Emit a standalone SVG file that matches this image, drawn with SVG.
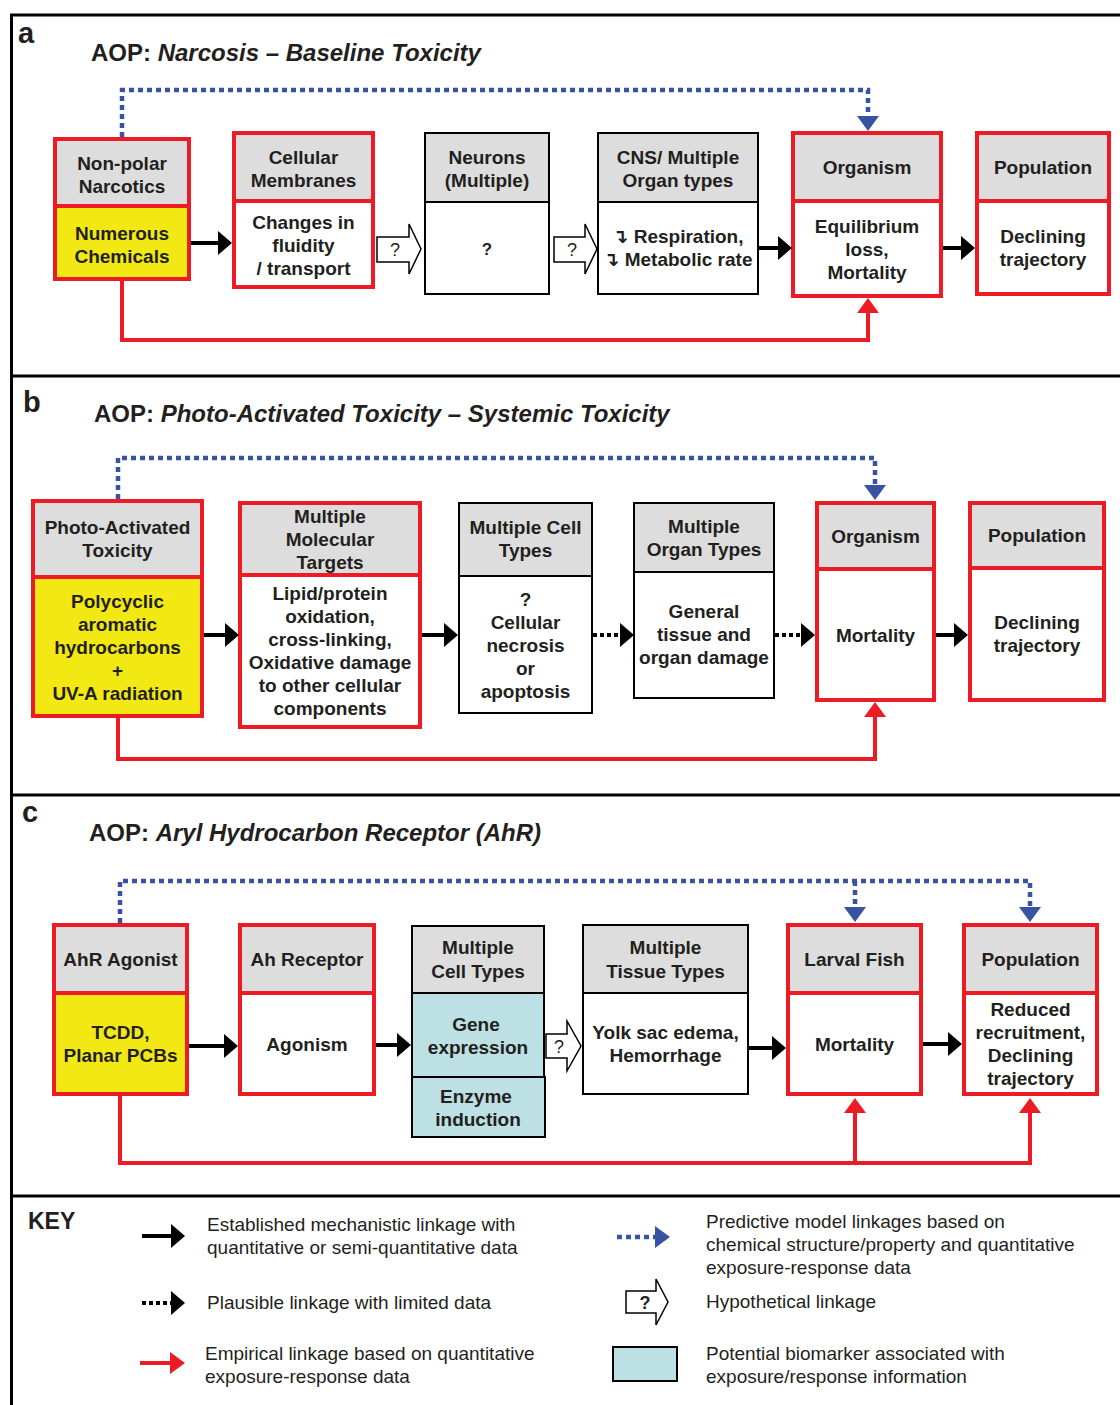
<svg xmlns="http://www.w3.org/2000/svg" width="1120" height="1405" viewBox="0 0 1120 1405">
<defs>
<style>
text{font-family:"Liberation Sans",Arial,"DejaVu Sans",sans-serif;fill:#231f20}
.t{font-size:19px;font-weight:bold;text-anchor:middle}
.ttl{font-size:24px;font-weight:bold}
.lbl{font-size:29px;font-weight:bold}
.key{font-size:19px}
.keyh{font-size:23px;font-weight:bold}
.hdr{fill:#dddddd}
.yel{fill:#f2e914}
.wht{fill:#ffffff}
.teal{fill:#bce0e3}
.rb{fill:none;stroke:#ed1c24;stroke-width:4}
.bb{fill:none;stroke:#000;stroke-width:2}
.blk{stroke:#000;stroke-width:4;fill:none}
.dot{stroke:#000;stroke-width:4;fill:none;stroke-dasharray:4 3}
.blu{stroke:#3953a4;stroke-width:4.5;fill:none;stroke-dasharray:5 4}
.red{stroke:#ed1c24;stroke-width:4;fill:none}
.hol{fill:#fff;stroke:#000;stroke-width:1.5}
.q{font-size:18px;text-anchor:middle}
.frame{stroke:#000;stroke-width:3;fill:none}
</style>
<marker id="ah" markerUnits="userSpaceOnUse" markerWidth="15" markerHeight="24" refX="0" refY="12" orient="auto"><path d="M0,0 L14,12 L0,24 Z" fill="#000"/></marker>
<marker id="bh" markerUnits="userSpaceOnUse" markerWidth="16" markerHeight="22" refX="0" refY="11" orient="auto"><path d="M0,0 L15,11 L0,22 Z" fill="#3953a4"/></marker>
<marker id="rh" markerUnits="userSpaceOnUse" markerWidth="16" markerHeight="22" refX="0" refY="11" orient="auto"><path d="M0,0 L15,11 L0,22 Z" fill="#ed1c24"/></marker>
</defs>

<g id="frame">
<path class="frame" d="M10,15 H1120 M11.5,14 V1405 M10,376 H1120 M10,795 H1120 M10,1196 H1120"/>
</g>

<g id="labels">
<text class="lbl" x="18" y="43">a</text>
<text class="ttl" x="91" y="61">AOP: <tspan font-style="italic">Narcosis – Baseline Toxicity</tspan></text>
<text class="lbl" x="23" y="412">b</text>
<text class="ttl" x="94" y="422">AOP: <tspan font-style="italic">Photo-Activated Toxicity – Systemic Toxicity</tspan></text>
<text class="lbl" x="22" y="822">c</text>
<text class="ttl" x="89" y="841">AOP: <tspan font-style="italic">Aryl Hydrocarbon Receptor (AhR)</tspan></text>
</g>

<!-- Panel a nodes -->
<g id="a1">
<rect class="hdr" x="55" y="139" width="134" height="67"/>
<rect class="yel" x="55" y="206" width="134" height="73"/>
<rect class="rb" x="55" y="139" width="134" height="140"/>
<line class="rb" x1="55" y1="206" x2="189" y2="206"/>
<text class="t" x="122" y="170">Non-polar</text>
<text class="t" x="122" y="193">Narcotics</text>
<text class="t" x="122" y="240">Numerous</text>
<text class="t" x="122" y="263">Chemicals</text>
</g>
<g id="a2">
<rect class="hdr" x="234" y="133" width="139" height="68"/>
<rect class="wht" x="234" y="201" width="139" height="86"/>
<rect class="rb" x="234" y="133" width="139" height="154"/>
<line class="rb" x1="234" y1="201" x2="373" y2="201"/>
<text class="t" x="303.5" y="164">Cellular</text>
<text class="t" x="303.5" y="187">Membranes</text>
<text class="t" x="303.5" y="229">Changes in</text>
<text class="t" x="303.5" y="252">fluidity</text>
<text class="t" x="303.5" y="275">/ transport</text>
</g>
<g id="a3">
<rect class="hdr" x="425" y="133" width="124" height="69"/>
<rect class="wht" x="425" y="202" width="124" height="92"/>
<rect class="bb" x="425" y="133" width="124" height="161"/>
<line class="bb" x1="425" y1="202" x2="549" y2="202"/>
<text class="t" x="487" y="164">Neurons</text>
<text class="t" x="487" y="187">(Multiple)</text>
<text class="t" x="487" y="255" style="font-size:17px">?</text>
</g>
<g id="a4">
<rect class="hdr" x="598" y="133" width="160" height="69"/>
<rect class="wht" x="598" y="202" width="160" height="92"/>
<rect class="bb" x="598" y="133" width="160" height="161"/>
<line class="bb" x1="598" y1="202" x2="758" y2="202"/>
<text class="t" x="678" y="164">CNS/ Multiple</text>
<text class="t" x="678" y="187">Organ types</text>
<text class="t" x="678" y="243">↴ Respiration,</text>
<text class="t" x="678" y="266">↴ Metabolic rate</text>
</g>
<g id="a5">
<rect class="hdr" x="793" y="133" width="148" height="68"/>
<rect class="wht" x="793" y="201" width="148" height="95"/>
<rect class="rb" x="793" y="133" width="148" height="163"/>
<line class="rb" x1="793" y1="201" x2="941" y2="201"/>
<text class="t" x="867" y="174">Organism</text>
<text class="t" x="867" y="233">Equilibrium</text>
<text class="t" x="867" y="256">loss,</text>
<text class="t" x="867" y="279">Mortality</text>
</g>
<g id="a6">
<rect class="hdr" x="977" y="133" width="132" height="68"/>
<rect class="wht" x="977" y="201" width="132" height="93"/>
<rect class="rb" x="977" y="133" width="132" height="161"/>
<line class="rb" x1="977" y1="201" x2="1109" y2="201"/>
<text class="t" x="1043" y="174">Population</text>
<text class="t" x="1043" y="243">Declining</text>
<text class="t" x="1043" y="266">trajectory</text>
</g>

<!-- Panel b nodes -->
<g id="b1">
<rect class="hdr" x="33" y="501" width="169" height="76"/>
<rect class="yel" x="33" y="577" width="169" height="139"/>
<rect class="rb" x="33" y="501" width="169" height="215"/>
<line class="rb" x1="33" y1="577" x2="202" y2="577"/>
<text class="t" x="117.5" y="534">Photo-Activated</text>
<text class="t" x="117.5" y="557">Toxicity</text>
<text class="t" x="117.5" y="608">Polycyclic</text>
<text class="t" x="117.5" y="631">aromatic</text>
<text class="t" x="117.5" y="654">hydrocarbons</text>
<text class="t" x="117.5" y="677">+</text>
<text class="t" x="117.5" y="700">UV-A radiation</text>
</g>
<g id="b2">
<rect class="hdr" x="240" y="503" width="180" height="72"/>
<rect class="wht" x="240" y="575" width="180" height="152"/>
<rect class="rb" x="240" y="503" width="180" height="224"/>
<line class="rb" x1="240" y1="575" x2="420" y2="575"/>
<text class="t" x="330" y="523">Multiple</text>
<text class="t" x="330" y="546">Molecular</text>
<text class="t" x="330" y="569">Targets</text>
<text class="t" x="330" y="600">Lipid/protein</text>
<text class="t" x="330" y="623">oxidation,</text>
<text class="t" x="330" y="646">cross-linking,</text>
<text class="t" x="330" y="669">Oxidative damage</text>
<text class="t" x="330" y="692">to other cellular</text>
<text class="t" x="330" y="715">components</text>
</g>
<g id="b3">
<rect class="hdr" x="459" y="503" width="133" height="73"/>
<rect class="wht" x="459" y="576" width="133" height="137"/>
<rect class="bb" x="459" y="503" width="133" height="210"/>
<line class="bb" x1="459" y1="576" x2="592" y2="576"/>
<text class="t" x="525.5" y="534">Multiple Cell</text>
<text class="t" x="525.5" y="557">Types</text>
<text class="t" x="525.5" y="606">?</text>
<text class="t" x="525.5" y="629">Cellular</text>
<text class="t" x="525.5" y="652">necrosis</text>
<text class="t" x="525.5" y="675">or</text>
<text class="t" x="525.5" y="698">apoptosis</text>
</g>
<g id="b4">
<rect class="hdr" x="634" y="503" width="140" height="69"/>
<rect class="wht" x="634" y="572" width="140" height="126"/>
<rect class="bb" x="634" y="503" width="140" height="195"/>
<line class="bb" x1="634" y1="572" x2="774" y2="572"/>
<text class="t" x="704" y="533">Multiple</text>
<text class="t" x="704" y="556">Organ Types</text>
<text class="t" x="704" y="618">General</text>
<text class="t" x="704" y="641">tissue and</text>
<text class="t" x="704" y="664">organ damage</text>
</g>
<g id="b5">
<rect class="hdr" x="817" y="503" width="117" height="66"/>
<rect class="wht" x="817" y="569" width="117" height="131"/>
<rect class="rb" x="817" y="503" width="117" height="197"/>
<line class="rb" x1="817" y1="569" x2="934" y2="569"/>
<text class="t" x="875.5" y="543">Organism</text>
<text class="t" x="875.5" y="642">Mortality</text>
</g>
<g id="b6">
<rect class="hdr" x="970" y="503" width="134" height="65"/>
<rect class="wht" x="970" y="568" width="134" height="132"/>
<rect class="rb" x="970" y="503" width="134" height="197"/>
<line class="rb" x1="970" y1="568" x2="1104" y2="568"/>
<text class="t" x="1037" y="542">Population</text>
<text class="t" x="1037" y="629">Declining</text>
<text class="t" x="1037" y="652">trajectory</text>
</g>

<!-- Panel c nodes -->
<g id="c1">
<rect class="hdr" x="54" y="925" width="133" height="68"/>
<rect class="yel" x="54" y="993" width="133" height="101"/>
<rect class="rb" x="54" y="925" width="133" height="169"/>
<line class="rb" x1="54" y1="993" x2="187" y2="993"/>
<text class="t" x="120.5" y="966">AhR Agonist</text>
<text class="t" x="120.5" y="1039">TCDD,</text>
<text class="t" x="120.5" y="1062">Planar PCBs</text>
</g>
<g id="c2">
<rect class="hdr" x="240" y="925" width="134" height="68"/>
<rect class="wht" x="240" y="993" width="134" height="101"/>
<rect class="rb" x="240" y="925" width="134" height="169"/>
<line class="rb" x1="240" y1="993" x2="374" y2="993"/>
<text class="t" x="307" y="966">Ah Receptor</text>
<text class="t" x="307" y="1051">Agonism</text>
</g>
<g id="c3">
<rect class="hdr" x="412" y="926" width="132" height="67"/>
<rect class="bb" x="412" y="926" width="132" height="67"/>
<rect class="teal" x="412" y="993" width="132" height="84"/>
<rect class="bb" x="412" y="993" width="132" height="84"/>
<rect class="teal" x="412" y="1077" width="133" height="60"/>
<rect class="bb" x="412" y="1077" width="133" height="60"/>
<text class="t" x="478" y="954">Multiple</text>
<text class="t" x="478" y="978">Cell Types</text>
<text class="t" x="476" y="1031">Gene</text>
<text class="t" x="478" y="1054">expression</text>
<text class="t" x="476" y="1103">Enzyme</text>
<text class="t" x="478" y="1126">induction</text>
</g>
<g id="c4">
<rect class="hdr" x="583" y="925" width="165" height="68"/>
<rect class="wht" x="583" y="993" width="165" height="101"/>
<rect class="bb" x="583" y="925" width="165" height="169"/>
<line class="bb" x1="583" y1="993" x2="748" y2="993"/>
<text class="t" x="665.5" y="954">Multiple</text>
<text class="t" x="665.5" y="978">Tissue Types</text>
<text class="t" x="665.5" y="1039">Yolk sac edema,</text>
<text class="t" x="665.5" y="1062">Hemorrhage</text>
</g>
<g id="c5">
<rect class="hdr" x="788" y="925" width="133" height="68"/>
<rect class="wht" x="788" y="993" width="133" height="101"/>
<rect class="rb" x="788" y="925" width="133" height="169"/>
<line class="rb" x1="788" y1="993" x2="921" y2="993"/>
<text class="t" x="854.5" y="966">Larval Fish</text>
<text class="t" x="854.5" y="1051">Mortality</text>
</g>
<g id="c6">
<rect class="hdr" x="964" y="925" width="133" height="68"/>
<rect class="wht" x="964" y="993" width="133" height="101"/>
<rect class="rb" x="964" y="925" width="133" height="169"/>
<line class="rb" x1="964" y1="993" x2="1097" y2="993"/>
<text class="t" x="1030.5" y="966">Population</text>
<text class="t" x="1030.5" y="1016">Reduced</text>
<text class="t" x="1030.5" y="1039">recruitment,</text>
<text class="t" x="1030.5" y="1062">Declining</text>
<text class="t" x="1030.5" y="1085">trajectory</text>
</g>

<g id="connectors">
<!-- panel a -->
<path class="blk" d="M191,243 H218" marker-end="url(#ah)"/>
<path class="blk" d="M759,248 H778" marker-end="url(#ah)"/>
<path class="blk" d="M943,248 H961" marker-end="url(#ah)"/>
<polygon class="hol" points="377,237 409,237 409,224 421,249 409,274 409,262 377,262"/>
<text class="q" x="395" y="256">?</text>
<polygon class="hol" points="554,237 585,237 585,224 597,249 585,274 585,262 554,262"/>
<text class="q" x="572" y="256">?</text>
<path class="blu" d="M122,137 V90 H868 V116" marker-end="url(#bh)"/>
<path class="red" d="M122,281 V340 H868 V313" marker-end="url(#rh)"/>
<!-- panel b -->
<path class="blk" d="M204,635 H225" marker-end="url(#ah)"/>
<path class="blk" d="M422,635 H444" marker-end="url(#ah)"/>
<path class="dot" d="M593,635 H620" marker-end="url(#ah)"/>
<path class="dot" d="M775,635 H801" marker-end="url(#ah)"/>
<path class="blk" d="M936,635 H954" marker-end="url(#ah)"/>
<path class="blu" d="M118,499 V458 H875 V485" marker-end="url(#bh)"/>
<path class="red" d="M118,718 V759 H875 V717" marker-end="url(#rh)"/>
<!-- panel c -->
<path class="blk" d="M189,1046 H224" marker-end="url(#ah)"/>
<path class="blk" d="M376,1045 H397" marker-end="url(#ah)"/>
<polygon class="hol" points="546,1034 567,1034 567,1021 581,1046 567,1071 567,1058 546,1058"/>
<text class="q" x="559" y="1053">?</text>
<path class="blk" d="M749,1048 H772" marker-end="url(#ah)"/>
<path class="blk" d="M923,1044 H948" marker-end="url(#ah)"/>
<path class="blu" d="M120,923 V881 H1030 V907" marker-end="url(#bh)"/>
<path class="blu" d="M855,881 V907" marker-end="url(#bh)"/>
<path class="red" d="M120,1096 V1163 H1030 V1113" marker-end="url(#rh)"/>
<path class="red" d="M855,1163 V1113" marker-end="url(#rh)"/>
</g>

<g id="key">
<text class="keyh" x="28" y="1229">KEY</text>
<path class="blk" d="M142,1236 H171" marker-end="url(#ah)"/>
<text class="key" x="207" y="1231">Established mechanistic linkage with</text>
<text class="key" x="207" y="1254">quantitative or semi-quantitative data</text>
<path class="dot" d="M142,1303 H171" marker-end="url(#ah)"/>
<text class="key" x="207" y="1309">Plausible linkage with limited data</text>
<path class="red" d="M140,1363 H170" marker-end="url(#rh)"/>
<text class="key" x="205" y="1360">Empirical linkage based on quantitative</text>
<text class="key" x="205" y="1383">exposure-response data</text>
<path class="blu" d="M617,1237 H655" marker-end="url(#bh)"/>
<text class="key" x="706" y="1228">Predictive model linkages based on</text>
<text class="key" x="706" y="1251">chemical structure/property and quantitative</text>
<text class="key" x="706" y="1274">exposure-response data</text>
<polygon class="hol" points="626,1291 656,1291 656,1279 668,1302 656,1325 656,1313 626,1313"/>
<text class="q" x="645" y="1309" font-weight="bold">?</text>
<text class="key" x="706" y="1308">Hypothetical linkage</text>
<rect class="teal" x="613" y="1347" width="64" height="34"/>
<rect class="bb" x="613" y="1347" width="64" height="34"/>
<text class="key" x="706" y="1360">Potential biomarker associated with</text>
<text class="key" x="706" y="1383">exposure/response information</text>
</g>
</svg>
